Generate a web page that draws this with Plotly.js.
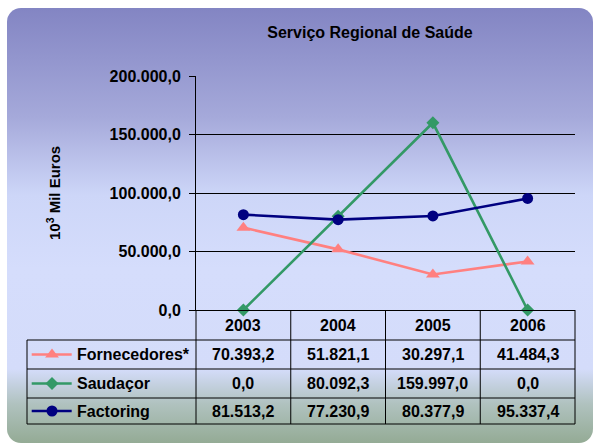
<!DOCTYPE html>
<html><head><meta charset="utf-8">
<script src="https://cdn.plot.ly/plotly-3.0.1.min.js"></script>
<style>
html,body{margin:0;padding:0;background:#fff;overflow:hidden;width:593px;height:443px}
#bg{position:absolute;left:7px;top:8px;width:586px;height:435px;border-radius:14px;
background:linear-gradient(to bottom,#8385c3 0%,#a5a9da 25%,#cdd6f8 43%,#d5ddfc 60%,#d4dcfa 83%,#b0c2bf 91%,#94ab95 100%)}
#chart{position:absolute;left:0;top:0;width:593px;height:443px}
</style></head>
<body>
<div id="bg"></div>
<div id="chart"></div>
<script>
// ---- data ----
const years = ['2003', '2004', '2005', '2006'];
const seriesNames = ['Fornecedores*', 'Saudaçor', 'Factoring'];
const fornecedores = [70393.2, 51821.1, 30297.1, 41484.3];
const saudacor = [0.0, 80092.3, 159997.0, 0.0];
const factoring = [81513.2, 77230.9, 80377.9, 95337.4];
const yTicks = [0, 50000, 100000, 150000, 200000];
const chartTitle = 'Serviço Regional de Saúde';
const yTitle = '10<sup>3</sup> Mil Euros';

// ---- styles / layout constants ----
const seriesValues = [fornecedores, saudacor, factoring];
const styles = [
  {color: '#ff8080', symbol: 'triangle-up', size: 12},
  {color: '#339966', symbol: 'diamond', size: 10},
  {color: '#000080', symbol: 'circle', size: 11}
];
const FONT = 'Liberation Sans, Arial, sans-serif';
const rowEdges = [0, 30, 59, 88, 114];          // table rows (y2 units, from table top)
const tableLeft = -2.28364, tableRight = 3.5;   // x2 units
const legLine = [-2.234, -1.812], legMark = -2.0198, labelX = -1.777;

function fmt(v) {
  const s = v.toFixed(1);
  let [ip, dp] = s.split('.');
  ip = ip.replace(/\B(?=(\d{3})+(?!\d))/g, '.');
  return ip + ',' + dp;
}

const traces = [];
seriesValues.forEach((vals, k) => {
  traces.push({
    type: 'scatter', mode: 'lines+markers', x: years, y: vals,
    xaxis: 'x', yaxis: 'y', cliponaxis: false, hoverinfo: 'skip',
    line: {color: styles[k].color, width: 2.6},
    marker: {color: styles[k].color, symbol: styles[k].symbol, size: styles[k].size},
    showlegend: false
  });
});
// legend keys inside the table
seriesNames.forEach((name, k) => {
  const yc = (rowEdges[k + 1] + rowEdges[k + 2]) / 2;
  traces.push({
    type: 'scatter', mode: 'lines', x: legLine, y: [yc, yc],
    xaxis: 'x2', yaxis: 'y2', hoverinfo: 'skip', showlegend: false,
    line: {color: styles[k].color, width: 2.6}
  });
  traces.push({
    type: 'scatter', mode: 'markers', x: [legMark], y: [yc],
    xaxis: 'x2', yaxis: 'y2', hoverinfo: 'skip', showlegend: false, cliponaxis: false,
    marker: {color: styles[k].color, symbol: styles[k].symbol, size: styles[k].size}
  });
});

const shapes = [];
const ln = {color: '#000', width: 1};
for (let r = 1; r < rowEdges.length; r++) {
  shapes.push({type: 'line', xref: 'x2', yref: 'y2', x0: tableLeft, x1: tableRight,
    y0: rowEdges[r], y1: rowEdges[r], line: ln});
}
for (let c = 0; c <= years.length; c++) {
  shapes.push({type: 'line', xref: 'x2', yref: 'y2', x0: c - 0.5, x1: c - 0.5,
    y0: rowEdges[0], y1: rowEdges[rowEdges.length - 1], line: ln});
}
shapes.push({type: 'line', xref: 'x2', yref: 'y2', x0: tableLeft, x1: tableLeft,
  y0: rowEdges[1], y1: rowEdges[rowEdges.length - 1], line: ln});

const annFont = {family: FONT, size: 16, color: '#000', weight: 'bold'};
const annotations = [];
years.forEach((yr, i) => {
  annotations.push({xref: 'x2', yref: 'y2', x: i, y: (rowEdges[0] + rowEdges[1]) / 2,
    text: yr, showarrow: false, font: annFont, xanchor: 'center', yanchor: 'middle'});
});
seriesNames.forEach((name, k) => {
  const yc = (rowEdges[k + 1] + rowEdges[k + 2]) / 2;
  annotations.push({xref: 'x2', yref: 'y2', x: labelX, y: yc, text: name, showarrow: false,
    font: annFont, xanchor: 'left', yanchor: 'middle'});
  seriesValues[k].forEach((v, i) => {
    annotations.push({xref: 'x2', yref: 'y2', x: i, y: yc, text: fmt(v), showarrow: false,
      font: annFont, xanchor: 'center', yanchor: 'middle'});
  });
});
annotations.push({xref: 'paper', yref: 'paper', x: 0.05745, y: 0.66856, text: yTitle,
  textangle: -90, showarrow: false, xanchor: 'center', yanchor: 'middle',
  font: {family: FONT, size: 15, color: '#000', weight: 'bold'}});

const layout = {
  width: 593, height: 443,
  margin: {l: 22, r: 14, t: 76, b: 14, pad: 0},
  paper_bgcolor: 'rgba(0,0,0,0)', plot_bgcolor: 'rgba(0,0,0,0)',
  separators: ',.',
  font: {family: FONT, color: '#000'},
  title: {text: chartTitle, x: 370 / 593, y: 1 - 32 / 443, xref: 'container', yref: 'container',
    xanchor: 'center', yanchor: 'middle', font: {family: FONT, size: 16, color: '#000', weight: 'bold'}},
  xaxis: {domain: [0.31239, 0.99282], range: [-0.5, 3.5], type: 'category', anchor: 'y',
    showline: true, linecolor: '#000', linewidth: 1, showgrid: false, zeroline: false,
    showticklabels: false, ticks: ''},
  yaxis: {domain: [0.33711, 1], range: [0, 200000], anchor: 'x', tickvals: yTicks,
    tickformat: ',.1f', showline: true, linecolor: '#000', linewidth: 1,
    showgrid: true, gridcolor: '#000', gridwidth: 1, zeroline: false,
    ticks: 'outside', ticklen: 6, tickcolor: '#000', ticklabelstandoff: 5,
    tickfont: {family: FONT, size: 16, color: '#000', weight: 'bold'}},
  xaxis2: {domain: [0, 1], range: [-2.33641, 3.54222], anchor: 'y2', visible: false},
  yaxis2: {domain: [0, 0.33711], range: [119, 0], anchor: 'x2', visible: false},
  shapes: shapes,
  annotations: annotations,
  showlegend: false
};

Plotly.newPlot('chart', traces, layout, {displayModeBar: false, staticPlot: true});
</script>
</body></html>
